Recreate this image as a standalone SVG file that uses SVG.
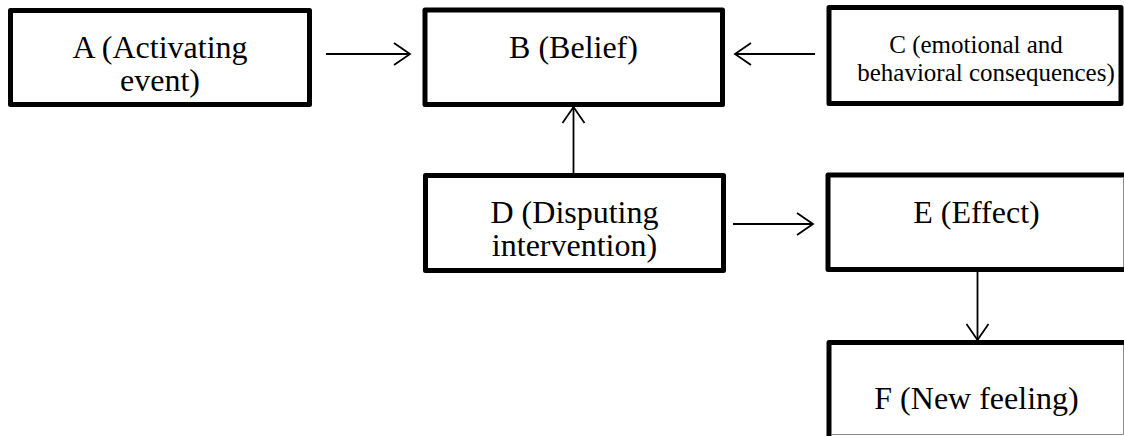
<svg xmlns="http://www.w3.org/2000/svg" width="1124" height="436" viewBox="0 0 1124 436">
  <style>
    .box { fill: #ffffff; stroke: #000000; stroke-width: 5; stroke-linejoin: round; }
    .edge { stroke: #8a8a8a; stroke-width: 1; fill: none; }
    .lbl { font-family: "Liberation Serif", Tinos, "Times New Roman", Times, "Nimbus Roman", FreeSerif, "DejaVu Serif", serif; font-size: 32px; fill: #000000; text-anchor: middle; }
    .lbl-s { font-family: "Liberation Serif", Tinos, "Times New Roman", Times, "Nimbus Roman", FreeSerif, "DejaVu Serif", serif; font-size: 25px; fill: #000000; text-anchor: middle; }
    .conn { stroke: #000000; stroke-width: 1.8; fill: none; }
  </style>
  <defs>
    <marker id="chev" markerUnits="userSpaceOnUse" viewBox="-19 -13 21 26" refX="0" refY="0" markerWidth="21" markerHeight="26" orient="auto" overflow="visible">
      <path d="M -16 -11 L 0 0 L -16 11" fill="none" stroke="#000000" stroke-width="1.8" stroke-linejoin="miter"/>
    </marker>
  </defs>
  <rect width="1124" height="436" fill="#ffffff"/>

  <g id="node-A">
    <rect class="box" x="10.5" y="10.5" width="299" height="94"/>
    <text class="lbl" x="160" y="58">A (Activating</text>
    <text class="lbl" x="160" y="91">event)</text>
  </g>

  <g id="node-B">
    <rect class="box" x="425" y="10" width="297.5" height="94.5"/>
    <text class="lbl" x="573.5" y="58">B (Belief)</text>
  </g>

  <g id="node-C">
    <rect class="box" x="829" y="7.5" width="292" height="96"/>
    <text class="lbl-s" x="976" y="53">C (emotional and</text>
    <text class="lbl-s" x="986" y="81">behavioral consequences)</text>
  </g>

  <g id="node-D">
    <rect class="box" x="425.5" y="175.5" width="298" height="95"/>
    <text class="lbl" x="574.5" y="223">D (Disputing</text>
    <text class="lbl" x="574.5" y="256">intervention)</text>
  </g>

  <g id="node-E">
    <rect class="box" x="828" y="175" width="300" height="94.5"/>
    <line class="edge" x1="1123.5" y1="177" x2="1123.5" y2="267"/>
    <text class="lbl" x="976.5" y="223">E (Effect)</text>
  </g>

  <g id="node-F">
    <rect class="box" x="829" y="342.5" width="300" height="100"/>
    <line class="edge" x1="1123.5" y1="345" x2="1123.5" y2="434.5"/>
    <line class="edge" x1="831" y1="434.5" x2="1123.5" y2="434.5"/>
    <text class="lbl" x="976.5" y="409">F (New feeling)</text>
  </g>

  <g id="connectors">
    <line class="conn" x1="326" y1="54" x2="410" y2="54" marker-end="url(#chev)"/>
    <line class="conn" x1="815" y1="54" x2="735" y2="54" marker-end="url(#chev)"/>
    <line class="conn" x1="573.5" y1="173" x2="573.5" y2="107" marker-end="url(#chev)"/>
    <line class="conn" x1="733" y1="224" x2="813" y2="224" marker-end="url(#chev)"/>
    <line class="conn" x1="977.5" y1="272" x2="977.5" y2="340" marker-end="url(#chev)"/>
  </g>
</svg>
